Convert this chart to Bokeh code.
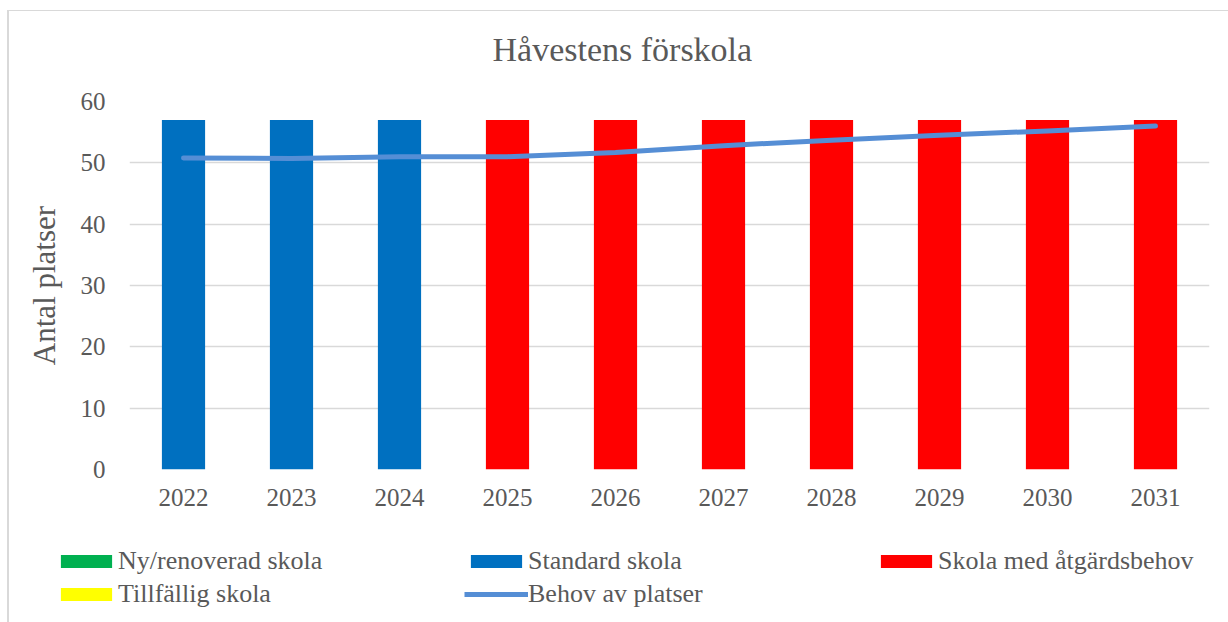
from bokeh.plotting import figure
from bokeh.layouts import column
from bokeh.models import Legend, LegendItem, FactorRange, Range1d, ColumnDataSource, Title
from bokeh.embed import file_html
from bokeh.resources import INLINE

years = ["2022", "2023", "2024", "2025", "2026", "2027", "2028", "2029", "2030", "2031"]
ny_renoverad_skola = [0, 0, 0, 0, 0, 0, 0, 0, 0, 0]
standard_skola = [57, 57, 57, 0, 0, 0, 0, 0, 0, 0]
skola_med_atgardsbehov = [0, 0, 0, 57, 57, 57, 57, 57, 57, 57]
tillfallig_skola = [0, 0, 0, 0, 0, 0, 0, 0, 0, 0]
behov_av_platser = [50.8, 50.7, 51.0, 51.0, 51.7, 52.8, 53.7, 54.5, 55.2, 56.0]

chart_title = "Håvestens förskola"
y_label = "Antal platser"
series_names = ["Ny/renoverad skola", "Standard skola", "Skola med åtgärdsbehov", "Tillfällig skola"]
series_colors = ["#00B050", "#0070C0", "#FF0000", "#FFFF00"]
line_name = "Behov av platser"
line_color = "#558ED5"

FONT = "Liberation Serif"
GRAY = "#595959"

p = figure(
    x_range=FactorRange(factors=years, range_padding=0),
    y_range=Range1d(0, 60),
    width=1219, height=509,
    output_backend="svg", toolbar_location=None,
    min_border_left=120, min_border_right=19,
    min_border_top=90, min_border_bottom=51,
    title=None,
)
p.outline_line_color = None
p.frame_align = False

# spacer (nearest the frame) then the real title above it
p.add_layout(Title(text=" ", text_font_size="1px", standoff=21), "above")
p.add_layout(Title(text=chart_title, align="left", offset=363,
                   text_font=FONT, text_font_size="34px", text_font_style="normal",
                   text_color=GRAY, standoff=20), "above")

src = dict(
    years=years,
    ny=ny_renoverad_skola,
    std=standard_skola,
    atg=skola_med_atgardsbehov,
    till=tillfallig_skola,
)
p.vbar_stack(["ny", "std", "atg", "till"], x="years", width=0.4,
             color=series_colors, line_color=None, source=src)
p.line(years, behov_av_platser, line_width=5, line_color=line_color,
       line_cap="round", line_join="round")

p.xgrid.grid_line_color = None
p.ygrid.grid_line_color = "#D9D9D9"
p.ygrid.grid_line_width = 1.5
p.yaxis.ticker = [0, 10, 20, 30, 40, 50, 60]

for ax in (p.xaxis, p.yaxis):
    ax.axis_line_color = None
    ax.major_tick_line_color = None
    ax.minor_tick_line_color = None
    ax.major_label_text_font = FONT
    ax.major_label_text_font_size = "25px"
    ax.major_label_text_color = GRAY

p.yaxis.major_label_standoff = 18
p.xaxis.major_label_standoff = 13
p.yaxis.axis_label = y_label
p.yaxis.axis_label_text_font = FONT
p.yaxis.axis_label_text_font_size = "31px"
p.yaxis.axis_label_text_font_style = "normal"
p.yaxis.axis_label_text_color = GRAY
p.yaxis.axis_label_standoff = 16

# legend panel: a separate figure whose frame is the whole panel
lf = figure(
    width=1219, height=102,
    x_range=Range1d(0, 1), y_range=Range1d(0, 1),
    output_backend="svg", toolbar_location=None,
    x_axis_type=None, y_axis_type=None,
    min_border_left=0, min_border_right=0, min_border_top=0, min_border_bottom=0,
)
lf.frame_align = False
lf.outline_line_color = None
lf.xgrid.visible = False
lf.ygrid.visible = False
# swatch sources hold one point placed outside the visible range (legend only)
off = ColumnDataSource(dict(x=[-10], top=[-10]))
swatches = [lf.vbar(x="x", top="top", width=0.4, color=c, line_color=None, source=off)
            for c in series_colors]
line_sw = lf.line(x="x", y="top", line_width=5, line_color=line_color,
                  line_cap="butt", source=off)

order = [(series_names[0], swatches[0]), (series_names[1], swatches[1]),
         (series_names[2], swatches[2]), (series_names[3], swatches[3]),
         (line_name, line_sw)]
legend = Legend(
    items=[LegendItem(label=n, renderers=[r]) for n, r in order],
    ncols=3,
    orientation="horizontal",
    location=(45, 12),
    border_line_color=None,
    background_fill_alpha=0,
    padding=0, margin=0, spacing=0,
    glyph_width=64, glyph_height=16,
    label_standoff=0,
    label_width=346,
    label_height=33,
    label_text_font=FONT,
    label_text_font_size="26px",
    label_text_color=GRAY,
)
lf.add_layout(legend, "center")

layout = column(p, lf, spacing=0)
layout.styles = {
    "margin-left": "7px",
    "margin-top": "10px",
    "border-left": "2px solid #D9D9D9",
    "border-top": "1px solid #D9D9D9",
}

open("out.html", "w").write(file_html(layout, INLINE))
